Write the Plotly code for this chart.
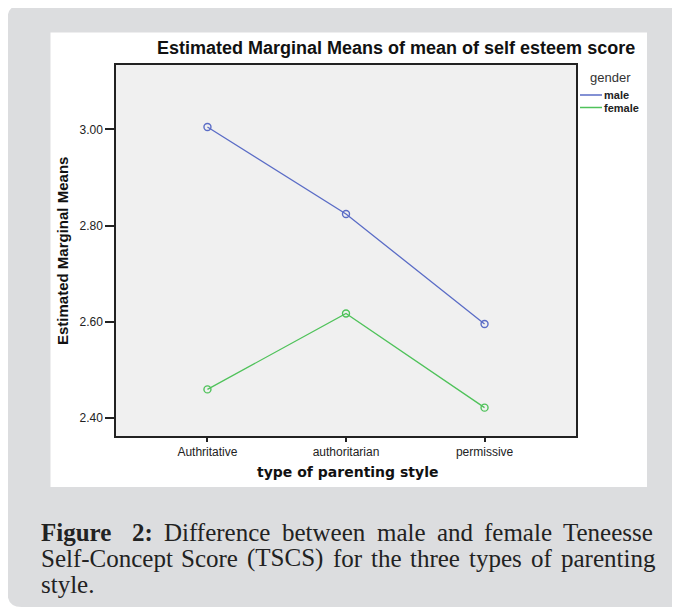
import plotly.graph_objects as go

# ---- data ----
categories = ["Authritative", "authoritarian", "permissive"]
male_means = [3.005, 2.824, 2.595]
female_means = [2.459, 2.617, 2.421]
y_ticks = [2.40, 2.60, 2.80, 3.00]

title_text = "Estimated Marginal Means of mean of self esteem score"
caption_lines = [
    ["<b>Figure</b>", "<b>2:</b>", "Difference", "between", "male", "and", "female", "Teneesse"],
    ["Self-Concept", "Score", "(TSCS)", "for", "the", "three", "types", "of", "parenting"],
    ["style."],
]

# ---- geometry (page pixels; body has an 8px margin) ----
OFF = 8
W, H = 680, 611
L, R, T, B = 116, 576, 65, 436          # plot area in page pixels
PW, PH = R - L, B - T


def xp(px):
    return (px - L) / PW


def yp(py):
    return (B - py) / PH


# Times / Liberation Serif advance widths (per 1000 em)
TIMES = {' ': 250, 'a': 444, 'b': 500, 'c': 444, 'd': 500, 'e': 444, 'f': 333, 'g': 500,
         'h': 500, 'i': 278, 'k': 500, 'l': 278, 'm': 778, 'n': 500, 'o': 500, 'p': 500,
         'r': 333, 's': 389, 't': 278, 'u': 500, 'v': 500, 'w': 722, 'y': 500, 'C': 667,
         'D': 722, 'F': 556, 'S': 556, 'T': 611, '(': 333, ')': 333, '-': 333, '.': 250,
         ':': 278, '2': 500}
TIMES_B = {'F': 611, 'i': 278, 'g': 500, 'u': 556, 'r': 444, 'e': 444, '2': 500, ':': 333}


def word_width(w, size):
    if w.startswith("<b>"):
        s = w[3:-4]
        return sum(TIMES_B.get(c, 500) for c in s) * size / 1000
    return sum(TIMES.get(c, 500) for c in w) * size / 1000


MALE_C = "#5a6cc6"
FEMALE_C = "#4fc25a"

fig = go.Figure()
fig.add_trace(go.Scatter(
    x=categories, y=male_means, mode="lines+markers", name="male",
    line=dict(color=MALE_C, width=1.3),
    marker=dict(symbol="circle-open", size=7, color=MALE_C, line=dict(width=1.4)),
    showlegend=False,
))
fig.add_trace(go.Scatter(
    x=categories, y=female_means, mode="lines+markers", name="female",
    line=dict(color=FEMALE_C, width=1.3),
    marker=dict(symbol="circle-open", size=7, color=FEMALE_C, line=dict(width=1.4)),
    showlegend=False,
))


def rounded_left_path(x0, y0, x1, y1, r):
    pts = [
        f"M {xp(x0 + r)},{yp(y0)}",
        f"L {xp(x1)},{yp(y0)}",
        f"L {xp(x1)},{yp(y1)}",
        f"L {xp(x0 + r)},{yp(y1)}",
        f"Q {xp(x0)},{yp(y1)} {xp(x0)},{yp(y1 - r)}",
        f"L {xp(x0)},{yp(y0 + r)}",
        f"Q {xp(x0)},{yp(y0)} {xp(x0 + r)},{yp(y0)}",
        "Z",
    ]
    return " ".join(pts)


shapes = [
    dict(type="path", xref="paper", yref="paper", layer="below",
         path=rounded_left_path(7.5, 5, 720, 607, 14),
         fillcolor="#dcdddf", line=dict(width=0)),
    dict(type="rect", xref="paper", yref="paper", layer="below",
         x0=xp(50.5), x1=xp(647), y0=yp(487), y1=yp(32.5),
         fillcolor="#ffffff", line=dict(width=0)),
    dict(type="rect", xref="paper", yref="paper", layer="below",
         x0=0, x1=1, y0=0, y1=1,
         fillcolor="#f0f0f0", line=dict(width=0)),
    dict(type="line", xref="paper", yref="paper",
         x0=xp(580), x1=xp(602), y0=yp(95), y1=yp(95),
         line=dict(color=MALE_C, width=1.5)),
    dict(type="line", xref="paper", yref="paper",
         x0=xp(580), x1=xp(602), y0=yp(107.5), y1=yp(107.5),
         line=dict(color=FEMALE_C, width=1.5)),
]

SANS = "Liberation Sans, Arial, sans-serif"
annotations = [
    dict(text=f"<b>{title_text}</b>", x=xp(396), y=yp(48), xref="paper", yref="paper",
         showarrow=False, xanchor="center", yanchor="middle",
         font=dict(family=SANS, size=18, color="#111")),
    dict(text="gender", x=xp(610), y=yp(78), xref="paper", yref="paper",
         showarrow=False, xanchor="center", yanchor="middle",
         font=dict(family=SANS, size=13, color="#333")),
    dict(text="<b>male</b>", x=xp(603), y=yp(95), xref="paper", yref="paper",
         showarrow=False, xanchor="left", yanchor="middle", borderpad=0,
         font=dict(family=SANS, size=11, color="#222")),
    dict(text="<b>female</b>", x=xp(603), y=yp(107.5), xref="paper", yref="paper",
         showarrow=False, xanchor="left", yanchor="middle", borderpad=0,
         font=dict(family=SANS, size=11, color="#222")),
    dict(text="<b>Estimated Marginal Means</b>", x=xp(62), y=yp(251), xref="paper", yref="paper",
         showarrow=False, xanchor="center", yanchor="middle", textangle=-90,
         font=dict(family="Liberation Sans Narrow, Arial Narrow, Liberation Sans, sans-serif",
                   size=15, color="#111")),
    dict(text="<b>type of parenting style</b>", x=xp(347), y=yp(472), xref="paper", yref="paper",
         showarrow=False, xanchor="center", yanchor="middle",
         font=dict(family="DejaVu Sans, sans-serif", size=14, color="#111")),
]

# caption: justified lines built word by word
CAP_SIZE = 25
CAP_LEFT, CAP_RIGHT = 39.5, 654
cap_y = [532, 558, 584]
for i, (words, cy) in enumerate(zip(caption_lines, cap_y)):
    widths = [word_width(w, CAP_SIZE) for w in words]
    if i == 0:
        widths[0] += TIMES[' '] * CAP_SIZE / 1000 * 1.5   # double space after "Figure"
    justify = i < len(caption_lines) - 1 and len(words) > 1
    if justify:
        gap = (CAP_RIGHT - CAP_LEFT - sum(widths)) / (len(words) - 1)
    else:
        gap = TIMES[' '] * CAP_SIZE / 1000
    x = CAP_LEFT
    for w, ww in zip(words, widths):
        annotations.append(dict(
            text=w, x=xp(x), y=yp(cy), xref="paper", yref="paper",
            showarrow=False, xanchor="left", yanchor="middle", borderpad=0,
            font=dict(family="Liberation Serif, Times New Roman, serif", size=CAP_SIZE, color="#222"),
        ))
        x += ww + gap

fig.update_layout(
    width=W, height=H,
    margin=dict(l=L - OFF, r=W - (R - OFF), t=T - OFF, b=H - (B - OFF), pad=0),
    paper_bgcolor="#ffffff",
    plot_bgcolor="rgba(0,0,0,0)",
    shapes=shapes,
    annotations=annotations,
    showlegend=False,
)
fig.update_xaxes(
    type="category", range=[-0.66, 2.66],
    showgrid=False, zeroline=False,
    showline=True, mirror=True, linecolor="#222", linewidth=1.5,
    ticks="outside", ticklen=4, tickwidth=1.5, tickcolor="#222",
    tickfont=dict(family=SANS, size=12, color="#222"),
)
fig.update_yaxes(
    range=[2.362, 3.134], tickvals=y_ticks, tickformat=".2f",
    showgrid=False, zeroline=False,
    showline=True, mirror=True, linecolor="#222", linewidth=1.5,
    ticks="outside", ticklen=9, tickwidth=1.5, tickcolor="#222",
    tickfont=dict(family=SANS, size=12, color="#222"),
)

fig.write_html("out.html")
